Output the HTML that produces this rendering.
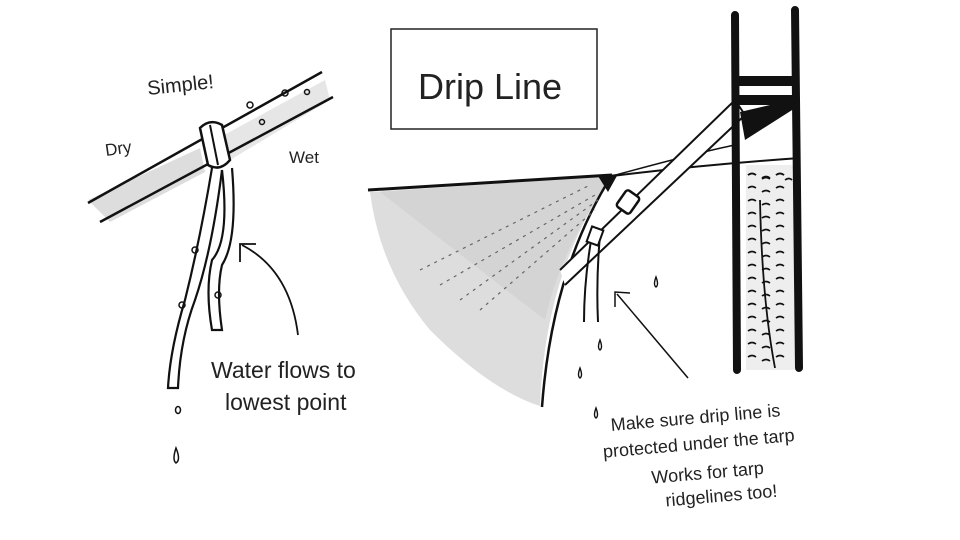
<!DOCTYPE html>
<html><head><meta charset="utf-8"><style>
html,body{margin:0;padding:0;background:#fff;}
svg{display:block;}
text{font-family:"Liberation Sans",sans-serif;fill:#222;}
</style></head><body>
<svg width="960" height="540" viewBox="0 0 960 540" xmlns="http://www.w3.org/2000/svg">
<rect width="960" height="540" fill="#fff"/>
<path d="M88,200 L200,148 L205,172 L110,222 Z" fill="#ddd"/>
<path d="M215,140 L325,80 L330,100 L230,160 Z" fill="#e6e6e6"/>
<line x1="88" y1="203" x2="322" y2="72" stroke="#111" stroke-width="2.5"/>
<line x1="100" y1="222" x2="333" y2="97" stroke="#111" stroke-width="2.5"/>
<path d="M200,128 Q210,118 222,125 L230,160 Q220,172 208,165 Z" fill="#fff" stroke="#111" stroke-width="2.5"/>
<path d="M210,125 L218,165" stroke="#111" stroke-width="2"/>
<path d="M212,168 Q200,240 185,300 Q170,350 168,388 L178,388 Q180,340 195,300 Q212,250 222,170" fill="#fff" stroke="#111" stroke-width="2.2"/>
<path d="M222,170 Q230,240 212,260 Q205,290 212,330 L222,330 Q216,290 222,265 Q238,240 232,168" fill="#fff" stroke="#111" stroke-width="2.2"/>
<g fill="none" stroke="#111" stroke-width="1.5">
<ellipse cx="178" cy="410" rx="2.5" ry="3.5"/>
<path d="M176,448 Q172,460 176,463 Q181,460 176,448Z"/>
<circle cx="250" cy="105" r="3"/><circle cx="285" cy="93" r="3"/><circle cx="262" cy="122" r="2.5"/><circle cx="307" cy="92" r="2.5"/>
<circle cx="195" cy="250" r="3"/><circle cx="182" cy="305" r="3"/><circle cx="218" cy="295" r="3"/>
</g>
<path d="M298,335 Q290,270 242,245" fill="none" stroke="#111" stroke-width="1.8"/>
<path d="M240,262 L240,244 L256,244" fill="none" stroke="#111" stroke-width="1.8"/>
<text x="148" y="95" font-size="20" transform="rotate(-6 148 95)">Simple!</text>
<text x="106" y="156" font-size="17" transform="rotate(-8 106 156)">Dry</text>
<text x="289" y="163" font-size="17">Wet</text>
<text x="211" y="378" font-size="23">Water flows to</text>
<text x="225" y="410" font-size="23">lowest point</text>
<rect x="391" y="29" width="206" height="100" fill="none" stroke="#222" stroke-width="1.5"/>
<text x="418" y="99" font-size="36">Drip Line</text>
<path d="M370,192 Q380,270 430,330 Q490,390 540,406 Q545,270 612,176 Z" fill="#ddd"/>
<path d="M380,192 L612,176 Q560,250 545,320 Z" fill="#ccc" opacity="0.5"/>
<line x1="368" y1="190" x2="612" y2="175" stroke="#111" stroke-width="3"/>
<path d="M612,175 Q552,270 542,407" fill="none" stroke="#111" stroke-width="2.5"/>
<path d="M598,176 L618,174 L608,192 Z" fill="#111"/>
<g stroke="#666" stroke-width="1.2" stroke-dasharray="3 5">
<line x1="420" y1="270" x2="590" y2="185"/><line x1="440" y1="285" x2="595" y2="195"/><line x1="460" y1="300" x2="598" y2="200"/><line x1="480" y1="310" x2="595" y2="210"/>
</g>
<path d="M612,176 Q700,165 800,158" fill="none" stroke="#111" stroke-width="2"/>
<path d="M612,176 Q700,152 735,145" fill="none" stroke="#111" stroke-width="1.5"/>
<path d="M560,270 L735,100 L745,115 L565,285" fill="#fff" stroke="#111" stroke-width="2"/>
<path d="M740,112 L800,98 L800,105 L745,140 Z" fill="#111"/>
<rect x="620" y="192" width="16" height="20" rx="3" fill="#fff" stroke="#111" stroke-width="2.5" transform="rotate(35 628 202)"/>
<path d="M746,165 L795,165 L795,370 L746,370 Z" fill="#eee"/>
<g stroke="#111" stroke-width="1.6" fill="none">
<path id="row" d="M748,175 q4,-3 8,0 M762,178 q4,-3 8,0 M776,175 q4,-3 8,0 M785,180 q4,-3 7,0"/>
</g>
<g stroke="#111" stroke-width="1.6" fill="none">
<path d="M748,175 q4,-3 8,0 m6,4 q4,-3 8,0 m6,-4 q4,-3 8,0"/>
<path d="M748,188 q4,-3 8,0 m6,4 q4,-3 8,0 m6,-4 q4,-3 8,0"/>
<path d="M748,201 q4,-3 8,0 m6,4 q4,-3 8,0 m6,-4 q4,-3 8,0"/>
<path d="M748,214 q4,-3 8,0 m6,4 q4,-3 8,0 m6,-4 q4,-3 8,0"/>
<path d="M748,227 q4,-3 8,0 m6,4 q4,-3 8,0 m6,-4 q4,-3 8,0"/>
<path d="M748,240 q4,-3 8,0 m6,4 q4,-3 8,0 m6,-4 q4,-3 8,0"/>
<path d="M748,253 q4,-3 8,0 m6,4 q4,-3 8,0 m6,-4 q4,-3 8,0"/>
<path d="M748,266 q4,-3 8,0 m6,4 q4,-3 8,0 m6,-4 q4,-3 8,0"/>
<path d="M748,279 q4,-3 8,0 m6,4 q4,-3 8,0 m6,-4 q4,-3 8,0"/>
<path d="M748,292 q4,-3 8,0 m6,4 q4,-3 8,0 m6,-4 q4,-3 8,0"/>
<path d="M748,305 q4,-3 8,0 m6,4 q4,-3 8,0 m6,-4 q4,-3 8,0"/>
<path d="M748,318 q4,-3 8,0 m6,4 q4,-3 8,0 m6,-4 q4,-3 8,0"/>
<path d="M748,331 q4,-3 8,0 m6,4 q4,-3 8,0 m6,-4 q4,-3 8,0"/>
<path d="M748,344 q4,-3 8,0 m6,4 q4,-3 8,0 m6,-4 q4,-3 8,0"/>
<path d="M748,357 q4,-3 8,0 m6,4 q4,-3 8,0 m6,-4 q4,-3 8,0"/>
<path d="M760,200 Q762,300 775,368" stroke-width="1.8"/>
</g>
<path d="M735,15 L737,370" stroke="#111" stroke-width="8" stroke-linecap="round"/>
<path d="M795,10 L799,368" stroke="#111" stroke-width="8" stroke-linecap="round"/>
<rect x="735" y="76" width="62" height="10" fill="#111"/>
<rect x="735" y="95" width="62" height="10" fill="#111"/>
<path d="M592,235 Q584,280 584,322 M600,235 Q596,280 598,322" stroke="#111" stroke-width="2" fill="none"/>
<rect x="589" y="228" width="12" height="16" fill="#fff" stroke="#111" stroke-width="2" transform="rotate(20 595 236)"/>
<g fill="none" stroke="#111" stroke-width="1.4">
<path d="M600,340 q-3,8 0,10 q3,-2 0,-10z"/><path d="M580,368 q-3,8 0,10 q3,-2 0,-10z"/><path d="M656,277 q-3,8 0,10 q3,-2 0,-10z"/><path d="M596,408 q-3,8 0,10 q3,-2 0,-10z"/>
</g>
<line x1="688" y1="378" x2="617" y2="294" stroke="#111" stroke-width="1.5"/>
<path d="M615,307 L615,292 L630,293" fill="none" stroke="#111" stroke-width="1.5"/>
<g transform="rotate(-5 600 440)">
<text x="612" y="432" font-size="18">Make sure drip line is</text>
<text x="602" y="458" font-size="18">protected under the tarp</text>
<text x="648" y="488" font-size="18">Works for tarp</text>
<text x="660" y="512" font-size="18">ridgelines too!</text>
</g>
</svg>
</body></html>
